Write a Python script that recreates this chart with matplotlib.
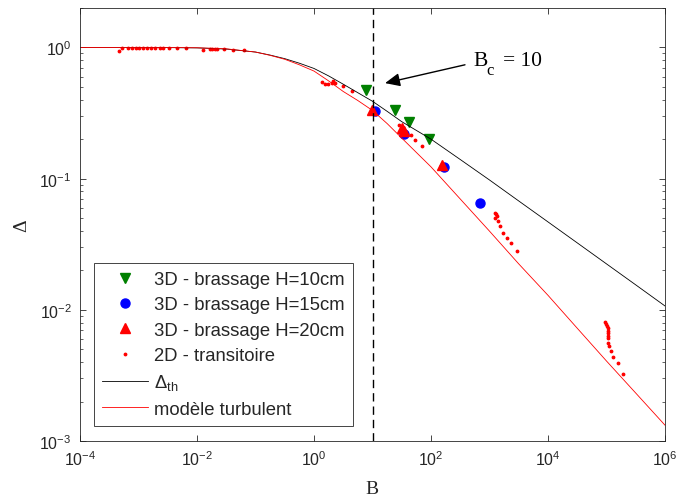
import matplotlib
matplotlib.use('Agg')
import matplotlib.pyplot as plt
from matplotlib.ticker import LogLocator, NullLocator, NullFormatter

matplotlib.rcParams['mathtext.fontset'] = 'custom'
matplotlib.rcParams['mathtext.rm'] = 'Liberation Sans'
matplotlib.rcParams['mathtext.it'] = 'Liberation Sans:italic'
matplotlib.rcParams['mathtext.bf'] = 'Liberation Sans:bold'
matplotlib.rcParams['font.family'] = 'Liberation Sans'

# 3D experiments
b_h10 = [7.7, 24.3, 42.6, 93.5]
d_h10 = [0.476, 0.331, 0.270, 0.200]
b_h15 = [11.0, 34.5, 167, 689]
d_h15 = [0.326, 0.220, 0.122, 0.0653]
b_h20 = [9.7, 31.5, 34.5, 152]
d_h20 = [0.336, 0.243, 0.229, 0.126]

# 2D transient runs
b_2d = [4.57e-4, 5.28e-4, 6.53e-4, 7.64e-4, 8.95e-4, 1.03e-3, 1.21e-3, 1.41e-3,
        1.66e-3, 1.95e-3, 2.29e-3, 2.63e-3, 3.31e-3, 4.47e-3, 6.46e-3,
        0.0126, 0.0166, 0.0182, 0.0200, 0.0219, 0.0288, 0.0417, 0.0646,
        1.355, 1.542, 1.754, 2.01, 2.14, 2.29, 3.09, 4.41,
        28.4, 33.2, 45.0, 53.2, 69.3,
        1242, 1270, 1260, 1327, 1416, 1510, 1722, 1968, 2301, 2917,
        94200, 98000, 103300, 106200, 107400, 107400, 106200, 105000,
        106200, 110400, 119400, 130900, 155600, 193600]
d_2d = [0.945, 0.99, 0.99, 0.99, 0.99, 0.99, 0.99, 0.99,
        0.99, 0.99, 0.99, 0.99, 0.99, 0.99, 0.99,
        0.95, 0.975, 0.98, 0.975, 0.98, 0.97, 0.965, 0.95,
        0.541, 0.530, 0.526, 0.536, 0.551, 0.538, 0.507, 0.462,
        0.258, 0.240, 0.216, 0.198, 0.178,
        0.0548, 0.0535, 0.0505, 0.0516, 0.0473, 0.0434, 0.0385, 0.0352, 0.0323, 0.0282,
        0.00805, 0.00777, 0.0075, 0.00721, 0.00687, 0.0066, 0.00605, 0.0063,
        0.00554, 0.00528, 0.00484, 0.00439, 0.0039, 0.00327]

# theoretical curves
b_curve = [1e-4, 3.16e-4, 1e-3, 3.16e-3, 1e-2, 3.16e-2, 0.1, 0.178, 0.316, 0.562,
           1, 1.78, 3.16, 5.62, 10, 17.8, 31.6, 100, 316, 1e3, 3.16e3, 1e4,
           3.16e4, 1e5, 3.16e5, 1e6]
d_th = [1, 1, 1, 0.998, 0.993, 0.973, 0.923, 0.875, 0.822, 0.759,
        0.692, 0.607, 0.525, 0.452, 0.389, 0.326, 0.272, 0.200, 0.140, 0.0977,
        0.0676, 0.0468, 0.0324, 0.0224, 0.0155, 0.0107]
d_turb = [1, 1, 1, 1, 0.995, 0.977, 0.923, 0.871, 0.813, 0.738,
          0.661, 0.556, 0.462, 0.394, 0.331, 0.263, 0.204, 0.123, 0.070, 0.0398,
          0.0224, 0.0129, 0.00724, 0.00407, 0.00232, 0.00132]

b_crit = 10

dark = '#262626'
serif = 'Liberation Serif'

fig = plt.figure(figsize=(6.81, 5.02), dpi=100)
ax = fig.add_axes([80 / 681, 60 / 502, 585 / 681, 433 / 502])

ax.plot(b_h10, d_h10, linestyle='none', marker='v', color='#008000', markersize=7.5,
        label='3D - brassage H=10cm')
ax.plot(b_h15, d_h15, linestyle='none', marker='o', color='#0000ff', markersize=6.5,
        label='3D - brassage H=15cm')
ax.plot(b_h20, d_h20, linestyle='none', marker='^', color='#ff0000', markersize=7,
        label='3D - brassage H=20cm')
ax.plot(b_2d, d_2d, linestyle='none', marker='.', color='#ff0000', markersize=3.5,
        label='2D - transitoire')
ax.plot(b_curve, d_th, color='black', linewidth=0.6, label=r'$\Delta_{\mathrm{th}}$')
ax.plot(b_curve, d_turb, color='#ff0000', linewidth=0.6, label='modèle turbulent')

ax.axvline(b_crit, color='black', linewidth=1.0, linestyle=(0, (6, 3.6)))

# arrow + "B_c = 10" label
ax.annotate('', xy=(16.4, 0.535), xytext=(381, 0.738),
            arrowprops=dict(arrowstyle='-|>,head_length=0.45,head_width=0.2',
                            color='black', linewidth=1.0, mutation_scale=20,
                            shrinkA=0, shrinkB=0))
lbl_pos = (522, 0.738)
ax.annotate('B', xy=lbl_pos, xytext=(0, 0), textcoords='offset points',
            family=serif, fontsize=15.5, ha='left', va='baseline')
ax.annotate('c', xy=lbl_pos, xytext=(10, -6.5), textcoords='offset points',
            family=serif, fontsize=12, ha='left', va='baseline')
ax.annotate('= 10', xy=lbl_pos, xytext=(21.5, 0), textcoords='offset points',
            family=serif, fontsize=15.5, ha='left', va='baseline')

ax.set_xscale('log')
ax.set_yscale('log')
ax.set_xlim(1e-4, 1e6)
ax.set_ylim(1e-3, 2)
ax.set_xticks([1e-4, 1e-2, 1, 1e2, 1e4, 1e6])
ax.xaxis.set_minor_locator(NullLocator())
ax.set_yticks([1e-3, 1e-2, 1e-1, 1])
ax.yaxis.set_minor_locator(LogLocator(base=10, subs=range(2, 10)))
ax.yaxis.set_minor_formatter(NullFormatter())

ax.tick_params(which='both', direction='in', top=True, right=True, colors=dark,
               labelsize=11.5, pad=6)
ax.tick_params(which='major', length=4, width=0.6)
ax.tick_params(which='minor', length=2, width=0.5)
for s in ax.spines.values():
    s.set_color(dark)
    s.set_linewidth(0.6)

fig.text(372 / 681, 1 - 490 / 502, 'B', family=serif, fontsize=14,
         ha='center', va='center', color=dark)
fig.text(22 / 681, 1 - 226 / 502, 'Δ', family=serif, fontsize=14,
         ha='center', va='center', rotation=90, color=dark)

leg = ax.legend(loc='lower left', bbox_to_anchor=(14 / 585, 15 / 433), borderaxespad=0,
                fontsize=13.3, fancybox=False, edgecolor=dark, framealpha=1,
                handlelength=2.5, handletextpad=0.3, labelspacing=0.45, borderpad=0.45)
leg.get_frame().set_linewidth(0.6)
for t in leg.get_texts():
    t.set_color(dark)

fig.savefig('out.png', dpi=100)
